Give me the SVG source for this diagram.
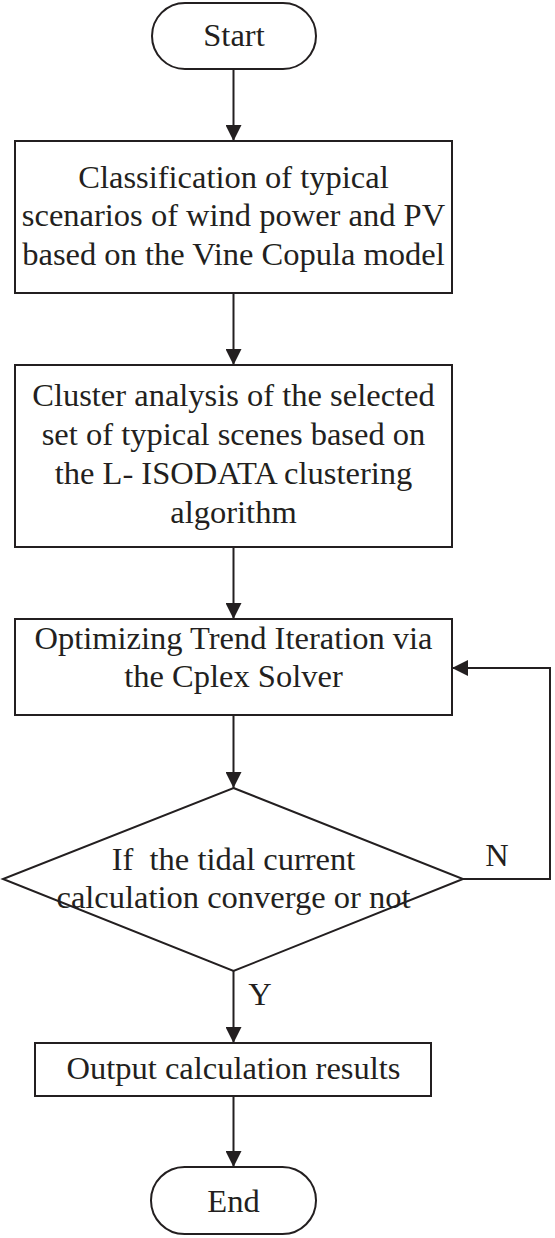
<svg xmlns="http://www.w3.org/2000/svg" width="555" height="1238" viewBox="0 0 555 1238">
<style>
.s{fill:#fff;stroke:#231f20;stroke-width:2}
.t{font-family:"Liberation Serif","Times New Roman",serif;font-size:32.5px;fill:#231f20;text-anchor:middle}
.c{fill:none;stroke:#231f20;stroke-width:2}
</style>
<defs>
<marker id="ah" markerUnits="userSpaceOnUse" markerWidth="16" markerHeight="16" refX="16" refY="8" orient="auto" viewBox="0 0 16 16">
<path d="M0,0 L16,8 L0,16 z" fill="#231f20"/>
</marker>
</defs>
<g id="connectors">
<line class="c" x1="233.5" y1="69" x2="233.5" y2="141" marker-end="url(#ah)"/>
<line class="c" x1="233.5" y1="293" x2="233.5" y2="365" marker-end="url(#ah)"/>
<line class="c" x1="233.5" y1="547" x2="233.5" y2="619" marker-end="url(#ah)"/>
<line class="c" x1="233.5" y1="715" x2="233.5" y2="788" marker-end="url(#ah)"/>
<line class="c" x1="233.5" y1="971" x2="233.5" y2="1043" marker-end="url(#ah)"/>
<line class="c" x1="233.5" y1="1096" x2="233.5" y2="1167" marker-end="url(#ah)"/>
<polyline class="c" points="463,879 550,879 550,668 452,668" marker-end="url(#ah)"/>
<text class="t" x="497" y="866">N</text>
<text class="t" x="260" y="1005">Y</text>
</g>
<g id="start">
<rect class="s" x="152" y="3" width="164" height="66" rx="33" ry="33"/>
<text class="t" x="234" y="46">Start</text>
</g>
<g id="classification">
<rect class="s" x="15" y="141" width="437" height="152"/>
<text class="t" x="233.5" y="188">Classification of typical</text>
<text class="t" x="233.5" y="226">scenarios of wind power and PV</text>
<text class="t" x="233.5" y="265">based on the Vine Copula model</text>
</g>
<g id="cluster">
<rect class="s" x="15" y="365" width="437" height="182"/>
<text class="t" x="233.5" y="406">Cluster analysis of the selected</text>
<text class="t" x="233.5" y="445">set of typical scenes based on</text>
<text class="t" x="233.5" y="484">the L- ISODATA clustering</text>
<text class="t" x="233.5" y="523">algorithm</text>
</g>
<g id="optimizing">
<rect class="s" x="15" y="619" width="437" height="96"/>
<text class="t" x="233.5" y="649">Optimizing Trend Iteration via</text>
<text class="t" x="233.5" y="687">the Cplex Solver</text>
</g>
<g id="decision">
<polygon class="s" points="233.5,788 463,879 233.5,971 3,879"/>
<text class="t" x="233.5" y="870" xml:space="preserve">If  the tidal current</text>
<text class="t" x="233.5" y="908">calculation converge or not</text>
</g>
<g id="output">
<rect class="s" x="35" y="1043" width="396" height="53"/>
<text class="t" x="233.5" y="1079">Output calculation results</text>
</g>
<g id="end">
<rect class="s" x="151" y="1167" width="165" height="67" rx="33.5" ry="33.5"/>
<text class="t" x="233.5" y="1212">End</text>
</g>
</svg>
